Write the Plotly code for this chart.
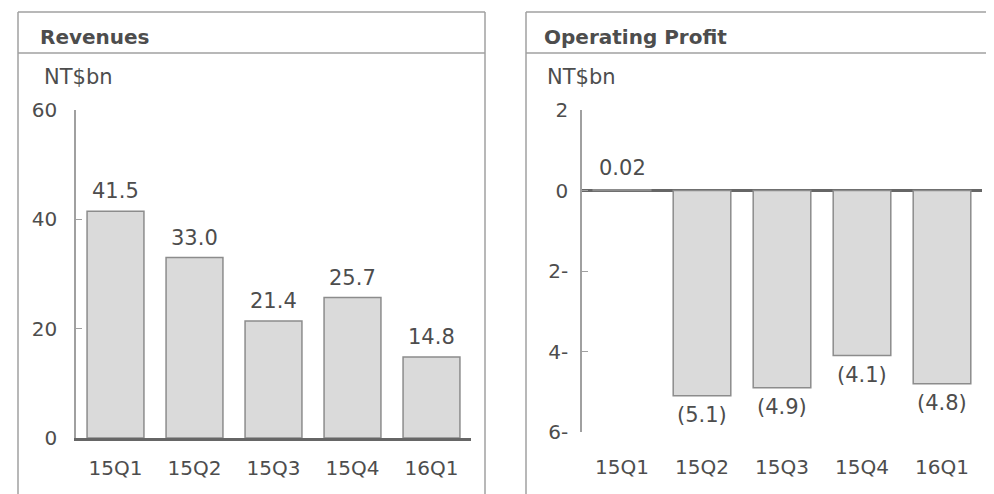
import plotly.graph_objects as go

quarters = ["15Q1", "15Q2", "15Q3", "15Q4", "16Q1"]
revenues = [41.5, 33.0, 21.4, 25.7, 14.8]
revenue_labels = ["41.5", "33.0", "21.4", "25.7", "14.8"]
op_profit = [0.02, -5.1, -4.9, -4.1, -4.8]
profit_labels = ["0.02", "(5.1)", "(4.9)", "(4.1)", "(4.8)"]
rev_tickvals = [0, 20, 40, 60]
rev_ticktext = ["0", "20", "40", "60"]
op_tickvals = [2, 0, -2, -4, -6]
op_ticktext = ["2", "0", "2-", "4-", "6-"]

OFF = 8  # page body margin offset
W, H = 994 - OFF, 494 - OFF
FONT = "DejaVu Sans, Liberation Sans, Arial"
TXT = "#4d4d4d"
BAR_FILL = "#dadada"
BAR_LINE = "#8c8c8c"
BOX = "#a0a0a0"


def px(x):
    return (x - OFF) / W


def py(y):
    return 1 - (y - OFF) / H


fig = go.Figure()
fig.add_trace(go.Bar(x=quarters, y=revenues, xaxis="x", yaxis="y",
                     marker=dict(color=BAR_FILL, line=dict(color=BAR_LINE, width=1.5)),
                     hoverinfo="skip", showlegend=False))
fig.add_trace(go.Bar(x=quarters, y=op_profit, xaxis="x2", yaxis="y2",
                     marker=dict(color=BAR_FILL, line=dict(color=BAR_LINE, width=1.5)),
                     hoverinfo="skip", showlegend=False))

annotations = []
for q, v, t in zip(quarters, revenues, revenue_labels):
    annotations.append(dict(x=q, y=v, xref="x", yref="y", text=t, showarrow=False,
                            yanchor="middle", yshift=20,
                            font=dict(family=FONT, size=21, color=TXT)))
for q, v, t in zip(quarters, op_profit, profit_labels):
    annotations.append(dict(x=q, y=v, xref="x2", yref="y2", text=t, showarrow=False,
                            yanchor="middle", yshift=22 if v > 0 else -19,
                            font=dict(family=FONT, size=21, color=TXT)))

for txt, x, y, size in [
    ("<b>Revenues</b>", 38, 37, 20),
    ("NT$bn", 42, 77, 21),
    ("<b>Operating Profit</b>", 542, 37, 20),
    ("NT$bn", 545, 77, 21),
]:
    annotations.append(dict(x=px(x), y=py(y), xref="paper", yref="paper", text=txt,
                            showarrow=False, xanchor="left", yanchor="middle",
                            font=dict(family=FONT, size=size, color=TXT)))

shapes = []
for x0, x1 in [(18, 485), (526, 990)]:
    for (a, b, c, d) in [(x0, x1, 12, 12), (x0, x1, 53, 53), (x0, x0, 12, 520), (x1, x1, 12, 520)]:
        shapes.append(dict(type="line", xref="paper", yref="paper",
                           x0=px(a), x1=px(b), y0=py(c), y1=py(d),
                           line=dict(color=BOX, width=1.5)))

tickfont = dict(family=FONT, size=20, color=TXT)

fig.update_layout(
    width=W, height=H,
    margin=dict(l=0, r=0, t=0, b=0, pad=0),
    paper_bgcolor="white", plot_bgcolor="white",
    bargap=0.28,
    showlegend=False,
    annotations=annotations,
    shapes=shapes,
    xaxis=dict(domain=[px(76), px(471)], anchor="y", showgrid=False, zeroline=False,
               showline=True, linecolor="#666666", linewidth=2.5, ticks="",
               tickfont=tickfont, ticklabelstandoff=10, automargin=False, fixedrange=True),
    yaxis=dict(domain=[py(438), py(110)], anchor="x", range=[0, 60],
               tickvals=rev_tickvals, ticktext=rev_ticktext,
               showgrid=False, zeroline=False, showline=True, linecolor=BOX,
               linewidth=1.5, ticks="inside", ticklen=6, tickcolor=BOX, tickwidth=1,
               tickfont=tickfont, ticklabelstandoff=13, automargin=False, fixedrange=True),
    xaxis2=dict(domain=[px(582), px(982)], anchor="y2", showgrid=False, zeroline=False,
                showline=False, ticks="", tickfont=tickfont, ticklabelstandoff=21,
                automargin=False, fixedrange=True),
    yaxis2=dict(domain=[py(432), py(110)], anchor="x2", range=[-6, 2],
                tickvals=op_tickvals, ticktext=op_ticktext,
                showgrid=False, zeroline=True, zerolinecolor="#666666", zerolinewidth=2.5,
                showline=True, linecolor=BOX, linewidth=1.5, ticks="inside", ticklen=6,
                tickcolor=BOX, tickwidth=1, tickfont=tickfont, ticklabelstandoff=8,
                automargin=False, fixedrange=True),
)

fig.write_html("out.html", config={"displayModeBar": False})
